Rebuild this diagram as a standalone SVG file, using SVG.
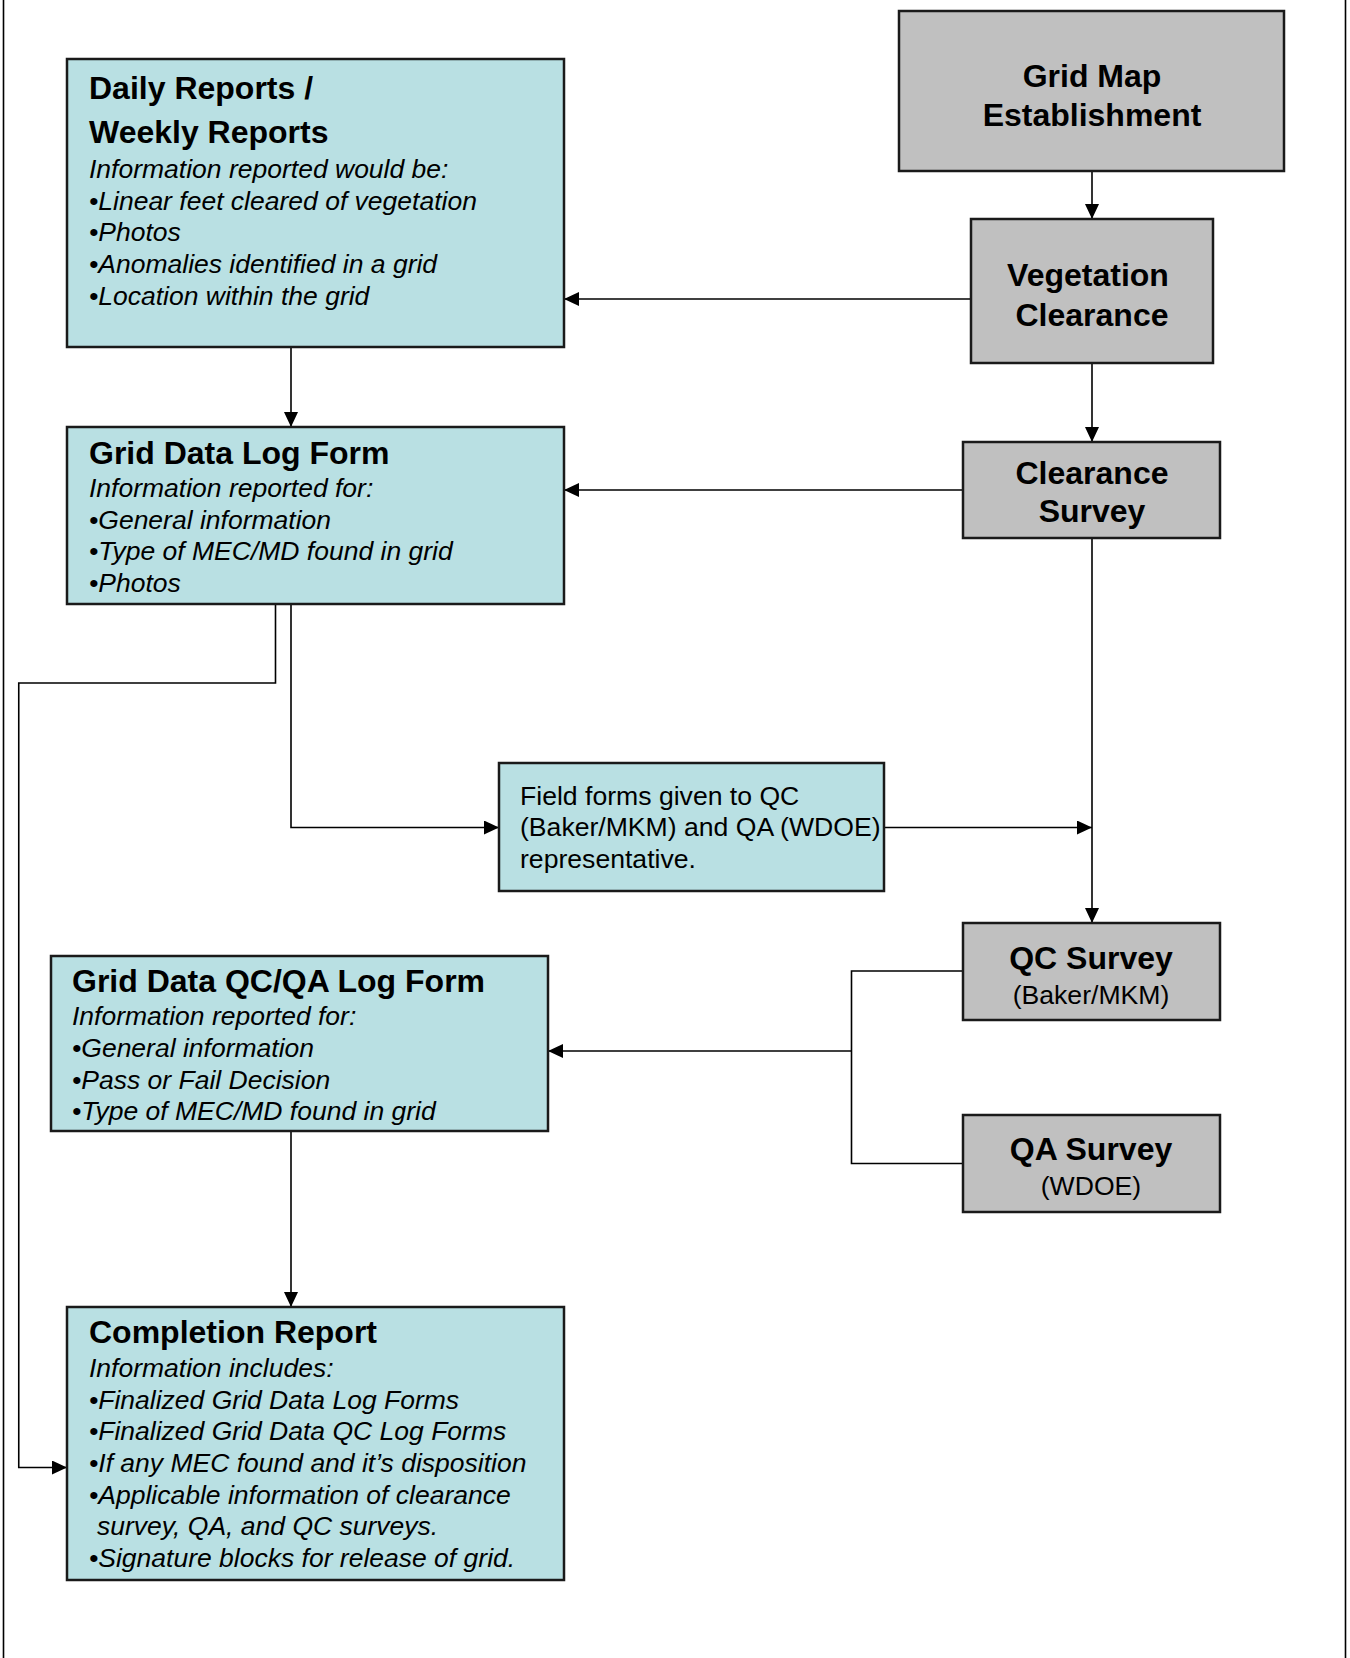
<svg xmlns="http://www.w3.org/2000/svg" width="1350" height="1658" viewBox="0 0 1350 1658">
<style>
.teal{fill:#B9E0E3;stroke:#1a1a1a;stroke-width:2.5}
.gray{fill:#C0C0C0;stroke:#1a1a1a;stroke-width:2.5}
.t{font-family:"Liberation Sans",Arial,sans-serif;fill:#000}
.b{font-weight:bold;font-size:32px}
.i{font-style:italic;font-size:26.5px}
.r{font-size:26.6px}
.c{text-anchor:middle}
.ln{fill:none;stroke:#000;stroke-width:1.6}
</style>
<defs>
<marker id="ah" markerUnits="userSpaceOnUse" markerWidth="15" markerHeight="14" refX="15" refY="7" orient="auto">
<path d="M0,0 L15,7 L0,14 z" fill="#000"/>
</marker>
</defs>
<rect width="1350" height="1658" fill="#fff"/>
<line x1="3.5" y1="0" x2="3.5" y2="1658" stroke="#000" stroke-width="1.6"/>
<line x1="1345.5" y1="0" x2="1345.5" y2="1658" stroke="#000" stroke-width="1.6"/>
<g id="connectors">
<line class="ln" x1="1092" y1="171" x2="1092" y2="219" marker-end="url(#ah)"/>
<line class="ln" x1="1092" y1="363" x2="1092" y2="442" marker-end="url(#ah)"/>
<line class="ln" x1="971" y1="299" x2="564" y2="299" marker-end="url(#ah)"/>
<line class="ln" x1="963" y1="490" x2="564" y2="490" marker-end="url(#ah)"/>
<line class="ln" x1="291" y1="347" x2="291" y2="427" marker-end="url(#ah)"/>
<polyline class="ln" points="275.5,604 275.5,683 18.75,683 18.75,1467.5 67,1467.5" marker-end="url(#ah)"/>
<polyline class="ln" points="291,604 291,827.5 499,827.5" marker-end="url(#ah)"/>
<line class="ln" x1="884" y1="827.5" x2="1092" y2="827.5" marker-end="url(#ah)"/>
<line class="ln" x1="1092" y1="538" x2="1092" y2="923" marker-end="url(#ah)"/>
<polyline class="ln" points="962,971 851.5,971 851.5,1163.5 962,1163.5"/>
<line class="ln" x1="851.5" y1="1051" x2="548" y2="1051" marker-end="url(#ah)"/>
<line class="ln" x1="291" y1="1131" x2="291" y2="1307" marker-end="url(#ah)"/>
</g>
<g id="grid-map">
<rect class="gray" x="899" y="11" width="385" height="160"/>
<text class="t b c" x="1092" y="87">Grid Map</text>
<text class="t b c" x="1092" y="126">Establishment</text>
</g>
<g id="vegetation-clearance">
<rect class="gray" x="971" y="219" width="242" height="144"/>
<text class="t b c" x="1088" y="286">Vegetation</text>
<text class="t b c" x="1092" y="326">Clearance</text>
</g>
<g id="clearance-survey">
<rect class="gray" x="963" y="442" width="257" height="96"/>
<text class="t b c" x="1092" y="484">Clearance</text>
<text class="t b c" x="1092" y="522">Survey</text>
</g>
<g id="daily-reports">
<rect class="teal" x="67" y="59" width="497" height="288"/>
<text class="t b" x="89" y="99">Daily Reports /</text>
<text class="t b" x="89" y="142.5">Weekly Reports</text>
<text class="t i" x="89" y="177.5">Information reported would be:</text>
<text class="t i" x="89" y="209.5">•Linear feet cleared of vegetation</text>
<text class="t i" x="89" y="241">•Photos</text>
<text class="t i" x="89" y="272.5">•Anomalies identified in a grid</text>
<text class="t i" x="89" y="304.5">•Location within the grid</text>
</g>
<g id="grid-data-log">
<rect class="teal" x="67" y="427" width="497" height="177"/>
<text class="t b" x="89" y="463.5">Grid Data Log Form</text>
<text class="t i" x="89" y="497">Information reported for:</text>
<text class="t i" x="89" y="528.5">•General information</text>
<text class="t i" x="89" y="560">•Type of MEC/MD found in grid</text>
<text class="t i" x="89" y="592">•Photos</text>
</g>
<g id="field-forms">
<rect class="teal" x="499" y="763" width="385" height="128"/>
<text class="t r" x="520" y="804.5">Field forms given to QC</text>
<text class="t r" x="520" y="836">(Baker/MKM) and QA (WDOE)</text>
<text class="t r" x="520" y="868">representative.</text>
</g>
<g id="qc-survey">
<rect class="gray" x="963" y="923" width="257" height="97"/>
<text class="t b c" x="1091" y="968.5">QC Survey</text>
<text class="t r c" x="1091" y="1003.5">(Baker/MKM)</text>
</g>
<g id="qa-survey">
<rect class="gray" x="963" y="1115" width="257" height="97"/>
<text class="t b c" x="1091" y="1159.5">QA Survey</text>
<text class="t r c" x="1091" y="1194.5">(WDOE)</text>
</g>
<g id="grid-data-qcqa">
<rect class="teal" x="51" y="956" width="497" height="175"/>
<text class="t b" x="72" y="992">Grid Data QC/QA Log Form</text>
<text class="t i" x="72" y="1025">Information reported for:</text>
<text class="t i" x="72" y="1057">•General information</text>
<text class="t i" x="72" y="1088.5">•Pass or Fail Decision</text>
<text class="t i" x="72" y="1120">•Type of MEC/MD found in grid</text>
</g>
<g id="completion-report">
<rect class="teal" x="67" y="1307" width="497" height="273"/>
<text class="t b" x="89" y="1343">Completion Report</text>
<text class="t i" x="89" y="1376.5">Information includes:</text>
<text class="t i" x="89" y="1408.5">•Finalized Grid Data Log Forms</text>
<text class="t i" x="89" y="1440">•Finalized Grid Data QC Log Forms</text>
<text class="t i" x="89" y="1472">•If any MEC found and it’s disposition</text>
<text class="t i" x="89" y="1504">•Applicable information of clearance</text>
<text class="t i" x="97" y="1535">survey, QA, and QC surveys.</text>
<text class="t i" x="89" y="1567">•Signature blocks for release of grid.</text>
</g>
</svg>
